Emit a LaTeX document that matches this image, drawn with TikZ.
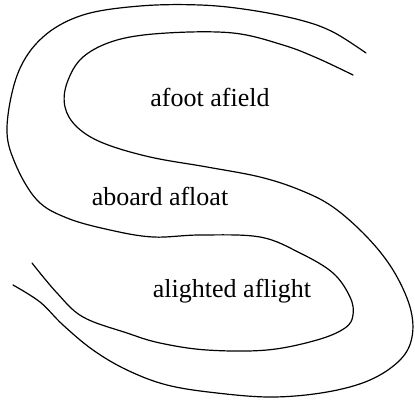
\documentclass[tikz,border=0pt]{standalone}
\usepackage{fontspec}
\setmainfont{Liberation Serif}
\usetikzlibrary{calc}

\begin{document}
\begin{tikzpicture}[
        x=0.5pt, y=-0.5pt,
        band/.style={line width=0.6pt, line cap=round, line join=round},
        word/.style={font=\fontsize{13}{15}\selectfont, inner sep=0pt}
    ]
        \useasboundingbox (0,0) rectangle (415,401);

        % outer edge on top, inner edge below
        \draw[band] plot[smooth, tension=0.6] coordinates {
            (366,53) (333,32) (300,20) (250,10) (200,5) (140,6) (83,15)
            (43,37) (18,73) (7,127) (15,163) (37,200) (67,218) (110,230)
            (153,237) (200,235) (260,237) (300,253) (333,273) (350,297)
            (353,315) (345,328) (317,340) (267,350) (207,350) (160,343)
            (127,333) (83,317) (57,293) (32,263)};

        % inner edge on top, outer edge below
        \draw[band] plot[smooth, tension=0.6] coordinates {
            (353,75) (317,58) (283,45) (233,33) (167,33) (117,40) (83,57)
            (67,83) (65,107) (77,127) (103,143) (150,157) (207,167)
            (260,177) (300,190) (333,207) (367,237) (393,270) (410,307)
            (412,337) (400,360) (370,380) (327,392) (273,397) (217,393)
            (167,385) (127,370) (93,350) (63,325) (40,302) (13,285)};

        \node[word] (afield) at (210,97) {afoot afield};
        \node[word] (afloat) at (160,196) {aboard afloat};
        \node[word] (aflight) at (232,291) {alighted aflight};
    \end{tikzpicture}
\end{document}
